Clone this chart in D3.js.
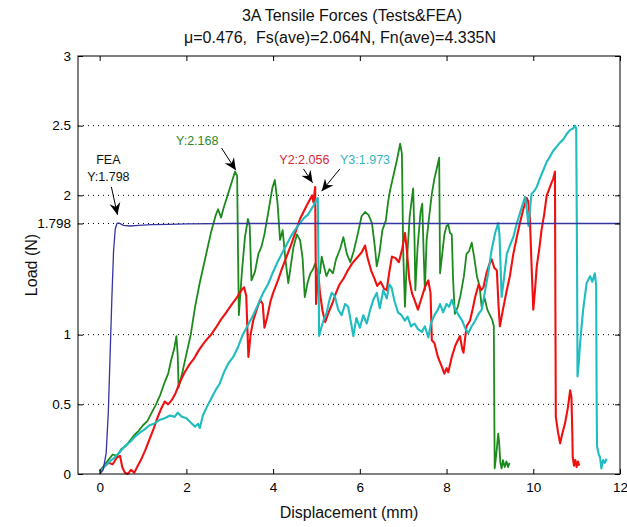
<!DOCTYPE html>
<html>
<head>
<meta charset="utf-8">
<script src="https://cdn.jsdelivr.net/npm/d3@7"></script>
<style>
  html, body { margin: 0; padding: 0; background: #fff; }
  svg { display: block; }
  text { font-family: "Liberation Sans", Arial, sans-serif; white-space: pre; }
</style>
</head>
<body>
<svg id="chart" width="627" height="527"></svg>
<script>
// ---------- data ----------
const titleLines = ["3A Tensile Forces (Tests&FEA)", "\u03bc=0.476,  Fs(ave)=2.064N, Fn(ave)=4.335N"];
const xLabel = "Displacement (mm)";
const yLabel = "Load (N)";
const xTicks = [0, 2, 4, 6, 8, 10, 12];
const yTicks = [0, 0.5, 1, 1.798, 2, 2.5, 3];

// FEA (blue)
const feaX = [0.00, 0.08, 0.15, 0.20, 0.24, 0.28, 0.32, 0.36, 0.40, 0.45, 0.55, 0.70, 0.90, 1.20, 1.60, 2.00, 3.00, 6.00, 12.00];
const feaY = [0.00, 0.03, 0.15, 0.45, 0.85, 1.25, 1.60, 1.76, 1.80, 1.80, 1.785, 1.78, 1.785, 1.79, 1.792, 1.795, 1.798, 1.798, 1.798];

// Test 1 (green)
const t1X = [0.00,0.10,0.20,0.30,0.40,0.50,0.60,0.70,0.80,0.90,1.00,1.10,1.20,1.30,1.40,1.50,1.58,1.65,1.72,1.77,1.80,1.82,1.90,2.00,2.10,2.20,2.30,2.40,2.50,2.58,2.68,2.73,2.80,2.85,2.95,3.05,3.12,3.17,3.19,3.21,3.28,3.35,3.42,3.46,3.50,3.58,3.66,3.73,3.80,3.90,3.98,4.04,4.10,4.16,4.22,4.28,4.35,4.42,4.47,4.55,4.62,4.68,4.73,4.80,4.86,4.92,4.97,5.03,5.08,5.12,5.18,5.23,5.30,5.38,5.45,5.55,5.62,5.70,5.78,5.86,5.95,6.04,6.12,6.20,6.28,6.35,6.39,6.45,6.52,6.60,6.65,6.70,6.78,6.86,6.93,6.97,7.00,7.04,7.08,7.15,7.23,7.26,7.28,7.33,7.40,7.44,7.47,7.50,7.54,7.60,7.66,7.72,7.78,7.83,7.85,7.90,7.95,8.00,8.04,8.08,8.12,8.15,8.19,8.26,8.32,8.40,8.46,8.52,8.58,8.64,8.70,8.76,8.81,8.88,8.94,9.00,9.06,9.09,9.10,9.11,9.15,9.19,9.21,9.24,9.27,9.30,9.34,9.38,9.42,9.45];
const t1Y = [0.02,0.06,0.10,0.14,0.13,0.18,0.20,0.24,0.28,0.31,0.35,0.38,0.44,0.50,0.57,0.66,0.72,0.82,0.90,0.99,0.85,0.62,0.72,0.86,1.00,1.20,1.36,1.50,1.64,1.75,1.86,1.90,1.84,1.90,2.00,2.10,2.17,2.14,1.60,1.14,1.45,1.70,1.83,1.78,1.39,1.45,1.58,1.63,1.72,1.90,2.05,2.11,1.95,1.68,1.75,1.55,1.37,1.52,1.63,1.72,1.68,1.55,1.27,1.38,1.44,1.47,1.51,1.45,1.44,1.56,1.48,1.42,1.47,1.44,1.54,1.62,1.70,1.58,1.52,1.60,1.72,1.85,1.88,1.86,1.80,1.62,1.49,1.58,1.75,1.82,1.95,2.04,2.15,2.26,2.37,2.30,1.60,1.20,1.50,1.85,2.05,1.70,1.32,1.62,1.88,1.94,1.60,1.32,1.68,1.85,2.01,2.12,2.20,2.27,1.44,1.58,1.72,1.78,1.79,1.73,1.72,1.40,1.15,1.20,1.28,1.42,1.58,1.60,1.66,1.55,1.42,1.35,1.20,1.26,1.18,1.14,1.10,1.06,0.50,0.04,0.15,0.29,0.24,0.08,0.04,0.10,0.05,0.09,0.05,0.08];

// Test 2 (red)
const t2X = [0.00,0.10,0.20,0.30,0.40,0.47,0.52,0.58,0.65,0.72,0.80,0.88,0.95,1.05,1.15,1.25,1.34,1.42,1.50,1.58,1.66,1.75,1.85,1.96,2.08,2.18,2.27,2.38,2.48,2.57,2.68,2.80,2.92,3.03,3.15,3.27,3.33,3.38,3.43,3.48,3.54,3.62,3.70,3.76,3.80,3.86,3.94,4.00,4.10,4.20,4.31,4.42,4.52,4.62,4.70,4.78,4.85,4.90,4.93,4.97,4.98,4.99,5.04,5.08,5.14,5.20,5.28,5.36,5.45,5.53,5.62,5.72,5.82,5.93,6.04,6.12,6.18,6.26,6.34,6.40,6.48,6.56,6.62,6.68,6.74,6.82,6.90,6.98,7.04,7.08,7.14,7.20,7.26,7.34,7.42,7.50,7.58,7.63,7.66,7.72,7.80,7.89,7.95,8.00,8.04,8.12,8.20,8.26,8.31,8.36,8.39,8.46,8.54,8.60,8.66,8.74,8.80,8.85,8.92,8.98,9.04,9.10,9.16,9.20,9.23,9.30,9.39,9.46,9.54,9.62,9.69,9.77,9.85,9.88,9.92,9.96,10.00,10.04,10.08,10.14,10.19,10.25,10.31,10.36,10.42,10.46,10.50,10.51,10.52,10.57,10.62,10.67,10.73,10.80,10.85,10.88,10.90,10.91,10.94,10.97,11.00,11.03,11.06];
const t2Y = [0.02,0.05,0.08,0.07,0.12,0.13,0.05,0.01,0.00,0.03,0.01,0.06,0.10,0.17,0.25,0.33,0.41,0.47,0.52,0.50,0.53,0.58,0.66,0.73,0.79,0.83,0.88,0.93,0.97,1.00,1.05,1.11,1.16,1.21,1.26,1.32,1.34,1.28,0.84,1.00,1.10,1.18,1.25,1.22,1.05,1.12,1.24,1.30,1.38,1.47,1.56,1.65,1.74,1.83,1.88,1.93,1.97,2.00,1.95,2.06,1.60,1.22,1.45,1.30,1.17,1.09,1.16,1.22,1.30,1.36,1.40,1.46,1.51,1.55,1.59,1.64,1.55,1.46,1.40,1.35,1.38,1.33,1.32,1.45,1.56,1.55,1.52,1.62,1.73,1.62,1.40,1.30,1.25,1.18,1.26,1.34,1.39,1.30,0.96,0.94,0.84,0.77,0.72,0.76,0.73,0.84,0.92,0.96,0.99,0.90,0.87,1.06,1.10,1.18,1.27,1.36,1.32,1.34,1.44,1.50,1.54,1.48,1.46,1.20,1.06,1.18,1.32,1.42,1.58,1.70,1.80,1.90,1.98,1.96,1.85,1.50,1.18,1.32,1.49,1.62,1.75,1.86,2.00,2.04,2.09,2.12,2.17,1.20,0.41,0.30,0.22,0.29,0.36,0.48,0.60,0.55,0.30,0.12,0.06,0.10,0.05,0.09,0.06];

// Test 3 (cyan)
const t3X = [0.00,0.10,0.20,0.27,0.35,0.47,0.58,0.70,0.82,0.94,1.04,1.15,1.25,1.39,1.50,1.62,1.73,1.80,1.90,2.00,2.10,2.20,2.27,2.31,2.38,2.47,2.57,2.67,2.77,2.88,2.98,3.08,3.19,3.30,3.42,3.54,3.66,3.77,3.88,4.00,4.10,4.20,4.30,4.40,4.50,4.62,4.72,4.80,4.88,4.94,5.00,5.03,5.05,5.06,5.12,5.18,5.23,5.30,5.35,5.42,5.50,5.58,5.66,5.73,5.80,5.85,5.92,6.00,6.08,6.16,6.24,6.31,6.39,6.46,6.54,6.62,6.68,6.73,6.80,6.88,6.96,7.04,7.10,7.18,7.26,7.34,7.43,7.50,7.58,7.64,7.72,7.80,7.85,7.92,8.00,8.06,8.12,8.20,8.28,8.36,8.44,8.50,8.58,8.66,8.74,8.81,8.88,8.96,9.04,9.12,9.19,9.22,9.25,9.27,9.33,9.39,9.46,9.54,9.62,9.69,9.75,9.81,9.85,9.89,9.93,9.96,10.02,10.08,10.15,10.23,10.31,10.39,10.46,10.54,10.62,10.69,10.77,10.85,10.92,10.96,10.99,11.01,11.02,11.05,11.08,11.15,11.23,11.31,11.36,11.42,11.45,11.46,11.47,11.51,11.54,11.57,11.61,11.65,11.69];
const t3Y = [0.01,0.05,0.08,0.10,0.12,0.16,0.20,0.23,0.27,0.30,0.32,0.35,0.36,0.39,0.40,0.42,0.41,0.44,0.41,0.40,0.37,0.34,0.36,0.33,0.42,0.48,0.54,0.60,0.65,0.74,0.80,0.84,0.91,1.00,1.07,1.14,1.22,1.30,1.36,1.45,1.52,1.58,1.64,1.70,1.75,1.80,1.84,1.86,1.90,1.93,1.97,1.98,1.40,0.99,1.06,1.12,1.15,1.25,1.30,1.28,1.18,1.14,1.22,1.20,1.08,0.99,1.12,1.05,1.14,1.08,1.18,1.25,1.30,1.19,1.32,1.26,1.36,1.34,1.24,1.16,1.14,1.10,1.13,1.06,1.08,1.04,1.02,1.06,0.98,1.08,1.14,1.18,1.22,1.16,1.22,1.20,1.25,1.18,1.14,1.10,1.04,1.01,1.06,1.10,1.15,1.18,1.30,1.44,1.61,1.73,1.80,1.72,1.45,1.27,1.42,1.58,1.64,1.70,1.80,1.87,1.93,1.99,1.90,1.78,1.92,2.01,2.03,2.06,2.12,2.18,2.24,2.28,2.32,2.35,2.38,2.40,2.44,2.47,2.48,2.50,2.48,1.50,0.70,0.80,0.94,1.18,1.37,1.42,1.38,1.44,1.35,0.60,0.20,0.14,0.12,0.04,0.10,0.08,0.11];

// annotation labels and arrow endpoints (tail -> head) in data units
const annoText = ["FEA", "Y:1.798", "Y:2.168", "Y2:2.056", "Y3:1.973"];
const arrowTailX = [0.27, 2.81, 4.70, 5.54];
const arrowTailY = [2.06, 2.34, 2.19, 2.19];
const arrowHeadX = [0.41, 3.14, 4.91, 5.12];
const arrowHeadY = [1.86, 2.18, 2.09, 2.03];

// ---------- chart ----------
const W = 627, H = 527;
const M = { left: 78, right: 7, top: 56, bottom: 53 };
const svg = d3.select("#chart");
svg.append("rect").attr("width", W).attr("height", H).attr("fill", "#fff");

const x = d3.scaleLinear().domain([-0.5, 12]).range([M.left, W - M.right]);
const y = d3.scaleLinear().domain([0, 3]).range([H - M.bottom, M.top]);

const colors = { fea: "#3535a0", t1: "#1d8a1d", t2: "#f01010", t3: "#1fbcc0" };

// grid (dotted horizontal)
svg.append("g").selectAll("line").data(yTicks.filter(v => v > 0 && v < 3)).join("line")
  .attr("x1", x.range()[0]).attr("x2", x.range()[1])
  .attr("y1", d => y(d)).attr("y2", d => y(d))
  .attr("stroke", "#000").attr("stroke-width", 1).attr("stroke-dasharray", "1,4");

// series
const line = d3.line().x(d => x(d[0])).y(d => y(d[1]));
const zip = (a, b) => a.map((v, i) => [v, b[i]]);
const plot = svg.append("g");
[[t1X, t1Y, colors.t1, 1.8], [t2X, t2Y, colors.t2, 2.1], [t3X, t3Y, colors.t3, 2.1], [feaX, feaY, colors.fea, 1.3]]
  .forEach(([xs, ys, c, w]) => {
    plot.append("path").datum(zip(xs, ys)).attr("d", line)
      .attr("fill", "none").attr("stroke", c).attr("stroke-width", w)
      .attr("stroke-linejoin", "round");
  });

// axes
const fmtY = d => d === 1.798 ? "1.798" : d3.format("~g")(d);
const gx = svg.append("g").attr("transform", `translate(0,${y(0)})`)
  .call(d3.axisBottom(x).tickValues(xTicks).tickSizeInner(-5).tickSizeOuter(0).tickPadding(8));
const gxt = svg.append("g").attr("transform", `translate(0,${y(3)})`)
  .call(d3.axisTop(x).tickValues(xTicks).tickSizeInner(-5).tickSizeOuter(0).tickFormat(""));
const gy = svg.append("g").attr("transform", `translate(${x(-0.5)},0)`)
  .call(d3.axisLeft(y).tickValues(yTicks).tickFormat(fmtY).tickSizeInner(-5).tickSizeOuter(0).tickPadding(7));
const gyr = svg.append("g").attr("transform", `translate(${x(12)},0)`)
  .call(d3.axisRight(y).tickValues(yTicks).tickSizeInner(-5).tickSizeOuter(0).tickFormat(""));
[gx, gxt, gy, gyr].forEach(g => {
  g.select(".domain").remove();
  g.selectAll("line").attr("stroke", "#000");
  g.selectAll("text").attr("font-size", 13.5).attr("fill", "#000")
    .style("font-family", '"Liberation Sans", Arial, sans-serif');
});
// box
svg.append("rect").attr("x", x(-0.5)).attr("y", y(3))
  .attr("width", x(12) - x(-0.5)).attr("height", y(0) - y(3))
  .attr("fill", "none").attr("stroke", "#000").attr("stroke-width", 1);

// titles
svg.append("text").attr("x", 352).attr("y", 21).attr("text-anchor", "middle")
  .attr("font-size", 16).attr("fill", "#111").text(titleLines[0]);
svg.append("text").attr("x", 340).attr("y", 43).attr("text-anchor", "middle")
  .attr("font-size", 16).attr("fill", "#111").attr("xml:space", "preserve").text(titleLines[1]);
svg.append("text").attr("x", (x(-0.5) + x(12)) / 2).attr("y", 518).attr("text-anchor", "middle")
  .attr("font-size", 16).attr("fill", "#111").text(xLabel);
svg.append("text").attr("transform", `translate(37,${(y(0) + y(3)) / 2}) rotate(-90)`)
  .attr("text-anchor", "middle").attr("font-size", 16).attr("fill", "#111").text(yLabel);

// arrow marker
const defs = svg.append("defs");
defs.append("marker").attr("id", "ah").attr("viewBox", "-12 -6 13 12")
  .attr("refX", 0).attr("refY", 0).attr("markerWidth", 13).attr("markerHeight", 12)
  .attr("markerUnits", "userSpaceOnUse").attr("orient", "auto")
  .append("path").attr("d", "M0,0 L-12,-5.5 L-8,0 L-12,5.5 Z").attr("fill", "#000");

// annotation texts
const anno = svg.append("g").attr("font-size", 12.5);
anno.append("text").attr("x", x(0.2)).attr("y", 164).attr("text-anchor", "middle").attr("fill", "#111").text(annoText[0]);
anno.append("text").attr("x", x(0.2)).attr("y", 181).attr("text-anchor", "middle").attr("fill", "#111").text(annoText[1]);
anno.append("text").attr("x", x(2.25)).attr("y", 145).attr("text-anchor", "middle").attr("fill", "#2a8a2a").text(annoText[2]);
anno.append("text").attr("x", x(4.72)).attr("y", 164).attr("text-anchor", "middle").attr("fill", "#d8283a").text(annoText[3]);
anno.append("text").attr("x", x(6.12)).attr("y", 164).attr("text-anchor", "middle").attr("fill", "#35b5bd").text(annoText[4]);

// arrows
svg.append("g").selectAll("line").data(arrowTailX.map((_, i) => i)).join("line")
  .attr("x1", i => x(arrowTailX[i])).attr("y1", i => y(arrowTailY[i]))
  .attr("x2", i => x(arrowHeadX[i])).attr("y2", i => y(arrowHeadY[i]))
  .attr("stroke", "#000").attr("stroke-width", 1)
  .attr("marker-end", "url(#ah)");
</script>
</body>
</html>
